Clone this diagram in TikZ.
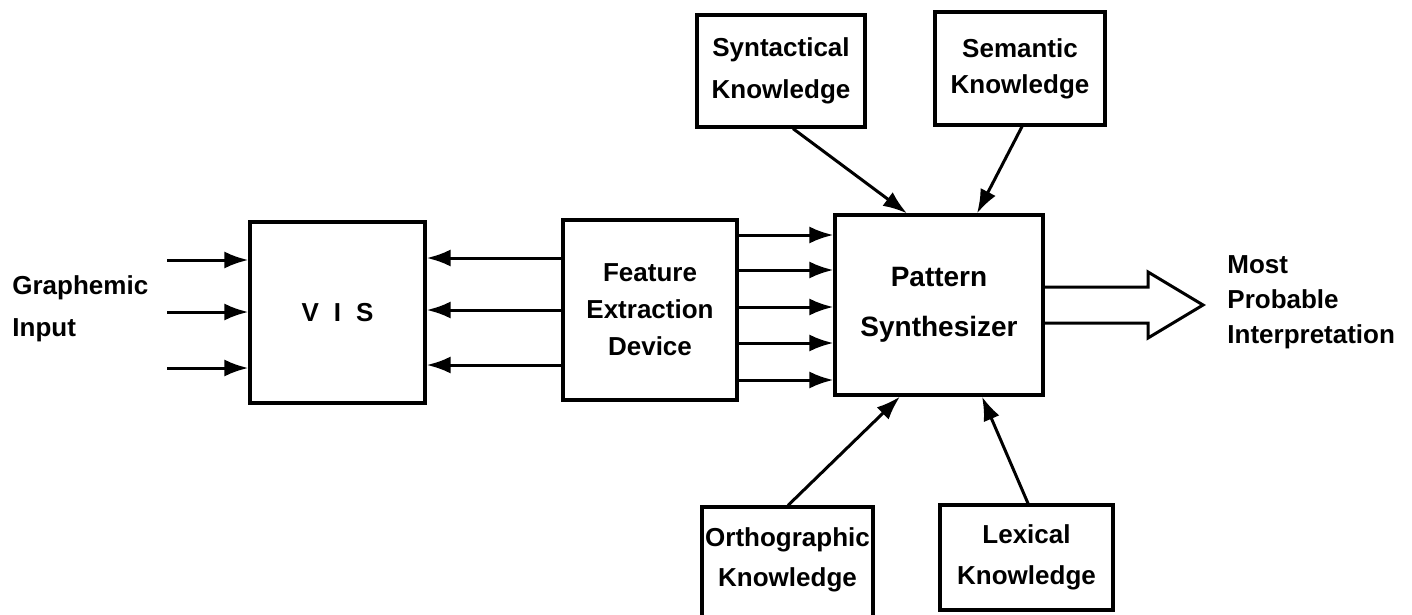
\documentclass[tikz,border=0pt]{standalone}
\usepackage{fontspec}
\setmainfont{Liberation Sans}
\usetikzlibrary{arrows.meta}
\begin{document}
\begin{tikzpicture}[x=0.5pt,y=-0.5pt,
  box/.style={draw, line width=1.6pt, inner sep=0pt, align=center},
  lbl/.style={font=\bfseries\fontsize{13pt}{#1}\selectfont, inner sep=0pt},
  lbl/.default={20pt},
  arr/.style={line width=1.5pt, -{Latex[length=12pt,width=8.5pt]}}]
\useasboundingbox (0,0) rectangle (1412,615);

% boxes
\node[box, minimum width=87.5pt, minimum height=90.5pt, lbl] (vis) at (337.5,312.5) {V\hspace{7.5pt}I\hspace{7.5pt}S};
\node[box, minimum width=87pt, minimum height=90pt, lbl=18.5pt] (fed) at (650,310) {Feature\\Extraction\\Device};
\node[box, minimum width=104pt, minimum height=90pt, font=\bfseries\fontsize{14pt}{25pt}\selectfont] (ps) at (939,305) {Pattern\\Synthesizer};
\node[box, minimum width=84pt, minimum height=56pt, lbl=21pt] (syn) at (781,71) {Syntactical\\Knowledge};
\node[box, minimum width=85pt, minimum height=56.5pt, lbl=18pt] (sem) at (1020,68.5) {Semantic\\Knowledge};
\node[box, minimum width=85.5pt, minimum height=62pt] (ortho) at (787.5,569) {};
\node[lbl=20pt, align=center] (orthotext) at (787.5,560) {Orthographic\\Knowledge};
\node[box, minimum width=86.5pt, minimum height=52.5pt, lbl=20.5pt] (lex) at (1026.5,557.5) {Lexical\\Knowledge};

% free texts
\node[lbl=21pt, align=left, anchor=west] (gi) at (12,309) {Graphemic\\Input};
\node[lbl=17.5pt, align=left, anchor=west] (mpi) at (1227,302) {Most\\Probable\\Interpretation};

% graphemic input arrows
\coordinate (in1) at (167,260);
\coordinate (in2) at (167,312);
\coordinate (in3) at (167,368);
\draw[arr] (in1) -- (vis.west |- in1);
\draw[arr] (in2) -- (vis.west |- in2);
\draw[arr] (in3) -- (vis.west |- in3);

% FED -> VIS
\draw[arr] (fed.west |- 0,258) -- (vis.east |- 0,258);
\draw[arr] (fed.west |- 0,310) -- (vis.east |- 0,310);
\draw[arr] (fed.west |- 0,365) -- (vis.east |- 0,365);

% FED -> PS
\draw[arr] (fed.east |- 0,235) -- (ps.west |- 0,235);
\draw[arr] (fed.east |- 0,270) -- (ps.west |- 0,270);
\draw[arr] (fed.east |- 0,307) -- (ps.west |- 0,307);
\draw[arr] (fed.east |- 0,343) -- (ps.west |- 0,343);
\draw[arr] (fed.east |- 0,380) -- (ps.west |- 0,380);

% knowledge sources -> PS
\draw[arr] (syn.south -| 793,0) -- (ps.north -| 907,0);
\draw[arr] (sem.south -| 1022,0) -- (ps.north -| 977,0);
\draw[arr] (ortho.north -| 788,0) -- (ps.south -| 900,0);
\draw[arr] (lex.north -| 1028,0) -- (ps.south -| 982,0);

% output arrow
\draw[line width=1.5pt, line join=miter] (ps.east |- 0,287) -- (1148,287) -- (1148,272) -- (1203,305) -- (1148,338) -- (1148,323) -- (ps.east |- 0,323);
\end{tikzpicture}
\end{document}
